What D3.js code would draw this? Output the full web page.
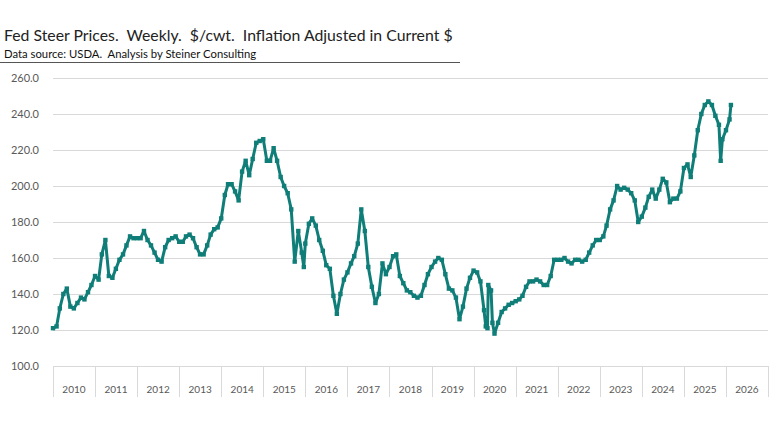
<!DOCTYPE html>
<html>
<head>
<meta charset="utf-8">
<script src="https://cdn.jsdelivr.net/npm/d3@7"></script>
<style>
  body { margin: 0; background: #fff; }
  svg { display: block; font-family: Lato, "Open Sans", sans-serif; }
</style>
</head>
<body>
<div id="chart"></div>
<script>
// monthly readings, Jan 2010 .. Feb 2026 ($/cwt, inflation adjusted)
var startMonth = new Date(2010, 0, 1)
var prices = [
  121, 122, 132, 140, 143, 133, 132, 135, 138, 137, 141, 145,   // 2010
  150, 148, 162, 170, 150, 149, 154, 159, 162, 167, 172, 171,   // 2011
  171, 171, 175, 170, 167, 163, 159, 158, 166, 170, 171, 172,   // 2012
  169, 169, 172, 173, 171, 166, 162, 162, 167, 173, 176, 177,   // 2013
  182, 195, 201, 201, 197, 192, 208, 214, 206, 215, 224, 225,   // 2014
  226, 214, 214, 221, 214, 205, 200, 196, 187, 158, 175, 163,   // 2015
  168, 179, 182, 178, 170, 164, 156, 154, 139, 129, 140, 148,   // 2016
  152, 157, 161, 168, 187, 175, 155, 144, 135, 140, 157, 151,   // 2017
  155, 161, 162, 150, 146, 142, 141, 139, 138, 139, 145, 151,   // 2018
  155, 158, 160, 159, 151, 143, 142, 138, 126, 133, 143, 149,   // 2019
  153, 152, 147, 131, 121, 142, 118, 124, 130, 132, 134, 135,   // 2020
  136, 137, 139, 144, 147, 147, 148, 147, 145, 145, 150, 159,   // 2021
  159, 159, 160, 158, 157, 159, 159, 158, 159, 163, 167, 170,   // 2022
  170, 172, 178, 187, 192, 200, 198, 199, 198, 196, 192, 180,   // 2023
  183, 188, 194, 198, 193, 198, 204, 202, 191, 193, 193, 197,   // 2024
  210, 212, 205, 217, 231, 240, 245, 247, 245, 239, 234, 226,   // 2025
  231, 237                                                      // 2026
]

// extra weekly readings where the monthly ones miss a sharp move
var extraDates = ["2015-12-19", "2020-04-16", "2020-05-08", "2020-06-13", "2025-11-16", "2026-02-13"]
var extraPrices = [155, 122, 145, 124, 214, 245]

var yTicks = [100, 120, 140, 160, 180, 200, 220, 240, 260]
var years = d3.range(2010, 2027)

var titleText = "Fed Steer Prices.  Weekly.  $/cwt.  Inflation Adjusted in Current $"
var sourceText = "Data source: USDA.  Analysis by Steiner Consulting"

var series = prices.map(function(v, i) {
  return { date: d3.timeMonth.offset(startMonth, i), value: v }
})
extraDates.forEach(function(d, i) {
  series.push({ date: d3.timeParse("%Y-%m-%d")(d), value: extraPrices[i] })
})
series.sort(function(a, b) { return a.date - b.date })

var w = 780
var h = 439
var plotLeft = 53, plotRight = 768, plotTop = 78, plotBottom = 366

var svg = d3.select('#chart')
  .append('svg')
  .attr('width', w)
  .attr('height', h)

svg.append('rect')
  .attr('width', w)
  .attr('height', h)
  .attr('fill', 'white')

// title block
svg.append('text')
  .attr('x', 4)
  .attr('y', 41)
  .attr('font-size', 15.8)
  .attr('fill', '#222')
  .style('white-space', 'pre')
  .text(titleText)

svg.append('text')
  .attr('x', 4)
  .attr('y', 58)
  .attr('font-size', 11.3)
  .attr('fill', '#111')
  .style('white-space', 'pre')
  .text(sourceText)

svg.append('line')
  .attr('x1', 0).attr('x2', 460)
  .attr('y1', 62.5).attr('y2', 62.5)
  .attr('stroke', '#555')
  .attr('stroke-width', 1)

var x = d3.scaleTime()
  .domain([new Date(2010, 0, 1), new Date(2027, 0, 1)])
  .range([plotLeft, plotRight])

var y = d3.scaleLinear()
  .domain([100, 260])
  .range([plotBottom, plotTop])

// gridlines + y labels
var yAxis = d3.axisLeft(y)
  .tickValues(yTicks)
  .tickSize(-(plotRight - plotLeft))
  .tickPadding(14)
  .tickFormat(d3.format('.1f'))

svg.append('g')
  .attr('transform', 'translate(' + plotLeft + ',0)')
  .call(yAxis)
  .call(function(g) {
    g.select('.domain').remove()
    g.selectAll('.tick line').attr('stroke', '#d9d9d9')
    g.selectAll('.tick text')
      .attr('fill', '#595959')
      .attr('font-size', 11)
      .attr('font-family', 'Lato, sans-serif')
  })

// x axis: year boundaries as tall ticks, labels centred in each year
var xg = svg.append('g')

xg.selectAll('line.yr')
  .data(years.concat([2027]))
  .enter()
  .append('line')
  .attr('class', 'yr')
  .attr('x1', function(d) { return Math.round(x(new Date(d, 0, 1))) + 0.5 })
  .attr('x2', function(d) { return Math.round(x(new Date(d, 0, 1))) + 0.5 })
  .attr('y1', plotBottom)
  .attr('y2', plotBottom + 31)
  .attr('stroke', '#d9d9d9')

xg.selectAll('text')
  .data(years)
  .enter()
  .append('text')
  .attr('x', function(d) { return x(new Date(d, 6, 2)) })
  .attr('y', 393)
  .attr('text-anchor', 'middle')
  .attr('font-size', 10)
  .attr('fill', '#595959')
  .text(function(d) { return d })

// price line
var line = d3.line()
  .x(function(d) { return x(d.date) })
  .y(function(d) { return y(d.value) })

var teal = '#0f7d78'

svg.append('path')
  .datum(series)
  .attr('d', line)
  .attr('fill', 'none')
  .attr('stroke', teal)
  .attr('stroke-width', 3)
  .attr('stroke-linejoin', 'round')

svg.selectAll('rect.mk')
  .data(series)
  .enter()
  .append('rect')
  .attr('class', 'mk')
  .attr('x', function(d) { return x(d.date) - 2.2 })
  .attr('y', function(d) { return y(d.value) - 2.2 })
  .attr('width', 4.4)
  .attr('height', 4.4)
  .attr('fill', teal)
</script>
</body>
</html>
